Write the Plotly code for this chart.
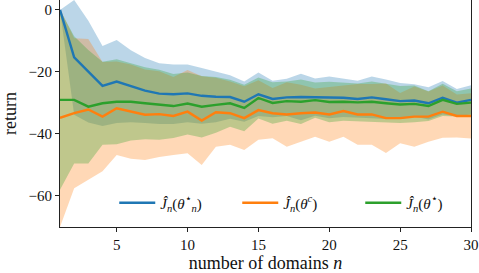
import plotly.graph_objects as go

n_domains = list(range(1, 31))

blue_mean = [0.0, -15.3, -19.9, -24.5, -23.1, -24.6, -26.0, -27.0, -27.2, -26.9,
             -27.7, -28.0, -28.1, -29.6, -27.2, -28.7, -28.2, -28.1, -28.1, -28.2,
             -28.3, -28.7, -28.2, -28.8, -29.4, -29.2, -30.1, -28.3, -29.9, -29.0]
blue_std = [0.0, 18.5, 16.4, 12.9, 13.4, 11.6, 10.5, 9.8, 9.6, 9.3,
            9.0, 8.2, 7.0, 6.5, 7.0, 5.9, 6.0, 7.5, 6.0, 6.7,
            6.2, 5.9, 6.7, 6.4, 5.8, 5.2, 5.2, 5.4, 4.4, 4.7]

orange_mean = [-34.8, -33.3, -32.1, -34.4, -31.7, -32.8, -33.8, -33.6, -34.2, -32.8,
               -35.7, -33.0, -33.3, -34.9, -32.3, -33.3, -33.7, -33.3, -33.1, -33.7,
               -32.6, -33.7, -33.7, -34.9, -34.9, -34.4, -34.4, -32.8, -34.2, -34.2]
orange_std = [35.2, 24.2, 22.7, 17.6, 15.1, 15.2, 14.6, 13.8, 12.6, 13.4,
              14.3, 11.1, 10.2, 10.3, 9.6, 8.1, 10.4, 9.2, 7.8, 8.8,
              8.3, 9.8, 9.8, 11.2, 8.1, 9.7, 8.1, 8.4, 6.9, 7.3]

green_mean = [-29.0, -29.0, -31.2, -30.1, -29.6, -29.6, -30.1, -30.6, -31.0, -30.2,
              -31.2, -30.6, -30.1, -31.6, -28.4, -30.0, -29.4, -29.6, -29.1, -29.7,
              -29.6, -29.8, -29.6, -30.1, -30.5, -30.3, -31.0, -29.0, -30.3, -29.9]
green_std = [29.0, 20.5, 18.3, 13.4, 13.7, 12.5, 11.6, 11.3, 10.3, 10.0,
             9.9, 9.0, 7.6, 7.5, 6.6, 6.7, 6.3, 7.2, 5.7, 6.5,
             6.1, 6.1, 6.5, 6.4, 6.0, 5.9, 4.8, 5.2, 4.1, 4.6]

labels = [
    "<i>Ĵ</i><sub><i>n</i></sub>(<i>θ</i><sup>⋆</sup><sub><i>n</i></sub>)",
    "<i>Ĵ</i><sub><i>n</i></sub>(<i>θ</i><sup><i>c</i></sup>)",
    "<i>Ĵ</i><sub><i>n</i></sub>(<i>θ</i><sup>⋆</sup>)",
]

series = [
    (blue_mean, blue_std, "#1f77b4", "rgba(31,119,180,0.3)"),
    (orange_mean, orange_std, "#ff7f0e", "rgba(255,127,14,0.3)"),
    (green_mean, green_std, "#2ca02c", "rgba(44,160,44,0.3)"),
]

fig = go.Figure()

for mean, std, col, fcol in series:
    upper = [m + s for m, s in zip(mean, std)]
    lower = [m - s for m, s in zip(mean, std)]
    fig.add_trace(go.Scatter(x=n_domains, y=upper, mode="lines", line=dict(width=0),
                             showlegend=False, hoverinfo="skip"))
    fig.add_trace(go.Scatter(x=n_domains, y=lower, mode="lines", line=dict(width=0),
                             fill="tonexty", fillcolor=fcol,
                             showlegend=False, hoverinfo="skip"))

for (mean, std, col, fcol), lab in zip(series, labels):
    fig.add_trace(go.Scatter(x=n_domains, y=mean, mode="lines", name=lab,
                             line=dict(color=col, width=2.4)))

font_family = "Liberation Serif, DejaVu Serif, serif"

fig.update_layout(
    width=479, height=273,
    margin=dict(l=60, r=8, t=0, b=46, autoexpand=False),
    paper_bgcolor="white", plot_bgcolor="white",
    font=dict(family=font_family, size=15, color="#111"),
    legend=dict(orientation="h", x=0.132, y=0.106, xanchor="left", yanchor="middle",
                bgcolor="rgba(255,255,255,0)", font=dict(size=15),
                traceorder="normal", itemwidth=36,
                entrywidth=72, entrywidthmode="pixels"),
    showlegend=True,
)
fig.update_xaxes(range=[1, 30], tickvals=[5, 10, 15, 20, 25, 30], automargin=False,
                 showgrid=False, zeroline=False, showline=True, mirror=True,
                 linecolor="#222", linewidth=1.2, ticks="outside", ticklen=4,
                 tickcolor="#222", title=dict(text="number of domains <i>n</i>", standoff=4))
fig.update_yaxes(range=[-70, 3.2], tickvals=[0, -20, -40, -60], automargin=False,
                 showgrid=False, zeroline=False, showline=True, mirror=True,
                 linecolor="#222", linewidth=1.2, ticks="outside", ticklen=4,
                 tickcolor="#222", title=dict(text="return", standoff=14))

fig.write_html(
    "out.html",
    config={"displayModeBar": False, "responsive": False},
    post_script="document.body.style.margin='0';document.body.style.overflow='hidden';",
)
